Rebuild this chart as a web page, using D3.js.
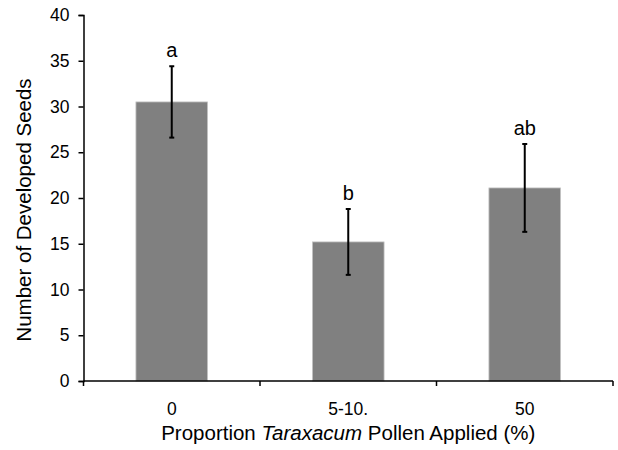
<!DOCTYPE html>
<html>
<head>
<meta charset="utf-8">
<script src="https://cdn.jsdelivr.net/npm/d3@7"></script>
<style>
  body { margin: 0; background: #fff; }
  text { font-family: "Liberation Sans", Arial, sans-serif; fill: #000; }
</style>
</head>
<body>
<svg id="chart" width="618" height="450"></svg>
<script>
// data
const categories = ["0", "5-10.", "50"];
const means = [30.5, 15.2, 21.1];
const errors = [3.9, 3.6, 4.8];
const letters = ["a", "b", "ab"];
const yTicks = [0, 5, 10, 15, 20, 25, 30, 35, 40];

const svg = d3.select("#chart");
const margin = { left: 83.5, right: 5, top: 15, bottom: 69 };
const width = 618, height = 450;

const gap = 0.594; // Excel-like gap between bars
const x = d3.scaleBand()
  .domain(categories)
  .range([margin.left, width - margin.right])
  .paddingInner(gap)
  .paddingOuter(gap / 2);

const y = d3.scaleLinear()
  .domain([0, 40])
  .range([height - margin.bottom, margin.top]);

// bars
svg.append("g")
  .selectAll("rect")
  .data(means)
  .join("rect")
  .attr("x", (d, i) => x(categories[i]))
  .attr("y", d => y(d))
  .attr("width", x.bandwidth())
  .attr("height", d => y(0) - y(d))
  .attr("fill", "#808080")
  .attr("stroke", "#c4c4c4")
  .attr("stroke-width", 0.8);

// error bars
const eb = svg.append("g").attr("stroke", "#000").attr("stroke-width", 2);
means.forEach((m, i) => {
  const cx = x(categories[i]) + x.bandwidth() / 2;
  eb.append("line").attr("x1", cx).attr("x2", cx)
    .attr("y1", y(m - errors[i])).attr("y2", y(m + errors[i]));
  eb.append("line").attr("x1", cx - 2.5).attr("x2", cx + 2.5)
    .attr("y1", y(m + errors[i])).attr("y2", y(m + errors[i]));
  eb.append("line").attr("x1", cx - 2.5).attr("x2", cx + 2.5)
    .attr("y1", y(m - errors[i])).attr("y2", y(m - errors[i]));
});

// significance letters
svg.append("g")
  .selectAll("text")
  .data(letters)
  .join("text")
  .attr("x", (d, i) => x(categories[i]) + x.bandwidth() / 2)
  .attr("y", (d, i) => y(means[i] + errors[i]) - 9)
  .attr("text-anchor", "middle")
  .attr("font-size", 20)
  .text(d => d);

// y axis
const yAxis = svg.append("g")
  .attr("transform", `translate(${margin.left},0)`)
  .call(d3.axisLeft(y).tickValues(yTicks).tickSize(5).tickPadding(9));
yAxis.select(".domain").attr("stroke-width", 1.5);
yAxis.selectAll(".tick line").attr("stroke-width", 1.5);
yAxis.selectAll("text").attr("font-size", 17.5);

// x axis: ticks between categories (Excel style)
const xAxisG = svg.append("g")
  .attr("transform", `translate(0,${y(0)})`);
xAxisG.append("line")
  .attr("x1", margin.left).attr("x2", width - margin.right)
  .attr("stroke", "#000").attr("stroke-width", 1.5);
const bounds = d3.range(categories.length + 1).map(i => margin.left + i * x.step());
xAxisG.selectAll("line.tk")
  .data(bounds)
  .join("line")
  .attr("class", "tk")
  .attr("x1", d => d).attr("x2", d => d)
  .attr("y1", 0).attr("y2", 5)
  .attr("stroke", "#000").attr("stroke-width", 1.5);
xAxisG.selectAll("text")
  .data(categories)
  .join("text")
  .attr("x", d => x(d) + x.bandwidth() / 2)
  .attr("y", 34)
  .attr("text-anchor", "middle")
  .attr("font-size", 17.5)
  .text(d => d);

// axis titles
const xt = svg.append("text")
  .attr("x", (margin.left + width - margin.right) / 2)
  .attr("y", 440)
  .attr("text-anchor", "middle")
  .attr("font-size", 20.5);
xt.append("tspan").text("Proportion ");
xt.append("tspan").attr("font-style", "italic").text("Taraxacum");
xt.append("tspan").text(" Pollen Applied (%)");

svg.append("text")
  .attr("transform", `translate(31,210) rotate(-90)`)
  .attr("text-anchor", "middle")
  .attr("font-size", 20.5)
  .text("Number of Developed Seeds");
</script>
</body>
</html>
